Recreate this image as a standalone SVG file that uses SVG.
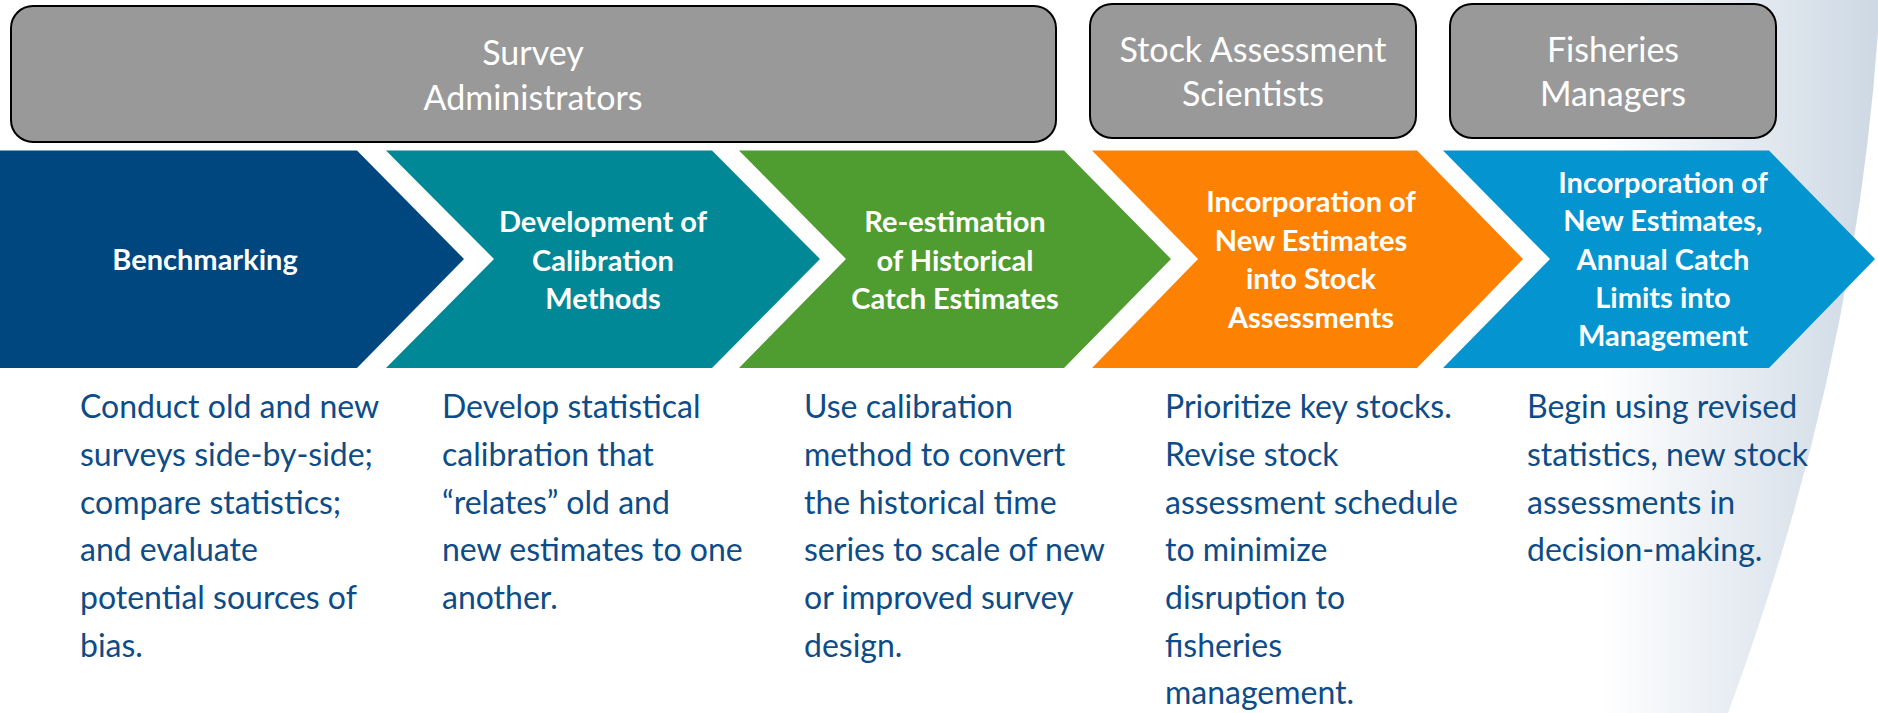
<svg xmlns="http://www.w3.org/2000/svg" width="1878" height="713" viewBox="0 0 1878 713">
  <defs>
    <linearGradient id="swooshFill" gradientUnits="userSpaceOnUse" x1="1600" y1="0" x2="1880" y2="0">
      <stop offset="0" stop-color="#ffffff"/>
      <stop offset="1" stop-color="#cdd8e4"/>
    </linearGradient>
    <style>
      .role { fill: #999999; stroke: #000000; stroke-width: 2; }
      .role-text { font-family: Lato, "Liberation Sans", sans-serif; font-size: 34px; fill: #ffffff; text-anchor: middle; }
      .step-text { font-family: Lato, "Liberation Sans", sans-serif; font-size: 29px; font-weight: bold; fill: #ffffff; text-anchor: middle; }
      .desc { font-family: Lato, "Liberation Sans", sans-serif; font-size: 32px; fill: #0d4c87; }
    </style>
  </defs>

  <rect width="1878" height="713" fill="#ffffff"/>

  <!-- background swoosh on the right edge -->
  <path d="M1560,0 L1880,0 Q1860,356.5 1728,713 L1560,713 Z" fill="url(#swooshFill)"/>

  <!-- role headers -->
  <g id="role-survey">
    <rect class="role" x="11" y="6" width="1045" height="136" rx="22"/>
    <text class="role-text" x="533" y="65">Survey</text>
    <text class="role-text" x="533" y="110">Administrators</text>
  </g>
  <g id="role-stock">
    <rect class="role" x="1090" y="4" width="326" height="134" rx="22"/>
    <text class="role-text" x="1253" y="62">Stock Assessment</text>
    <text class="role-text" x="1253" y="106">Scientists</text>
  </g>
  <g id="role-managers">
    <rect class="role" x="1450" y="4" width="326" height="134" rx="22"/>
    <text class="role-text" x="1613" y="62">Fisheries</text>
    <text class="role-text" x="1613" y="106">Managers</text>
  </g>

  <!-- process chevrons -->
  <g id="step-benchmarking">
    <path d="M0,150.5 H357 L464,259 L357,368 H0 Z" fill="#00467f"/>
    <text class="step-text" x="205" y="270">Benchmarking</text>
  </g>
  <g id="step-calibration">
    <path d="M386,150.5 H712 L820,259 L712,368 H386 L494,259 Z" fill="#008896"/>
    <text class="step-text" x="603" y="232">Development of</text>
    <text class="step-text" x="603" y="270.5">Calibration</text>
    <text class="step-text" x="603" y="309">Methods</text>
  </g>
  <g id="step-reestimation">
    <path d="M739,150.5 H1064 L1171,259 L1064,368 H739 L846,259 Z" fill="#4f9c30"/>
    <text class="step-text" x="955" y="232">Re-estimation</text>
    <text class="step-text" x="955" y="270.5">of Historical</text>
    <text class="step-text" x="955" y="309">Catch Estimates</text>
  </g>
  <g id="step-stock-assessment">
    <path d="M1092,150.5 H1417 L1523,259 L1417,368 H1092 L1198,259 Z" fill="#fd8204"/>
    <text class="step-text" x="1311" y="212">Incorporation of</text>
    <text class="step-text" x="1311" y="250.5">New Estimates</text>
    <text class="step-text" x="1311" y="289">into Stock</text>
    <text class="step-text" x="1311" y="327.5">Assessments</text>
  </g>
  <g id="step-management">
    <path d="M1443,150.5 H1769 L1875,259 L1769,368 H1443 L1550,259 Z" fill="#0494d0"/>
    <text class="step-text" x="1663" y="193">Incorporation of</text>
    <text class="step-text" x="1663" y="231">New Estimates,</text>
    <text class="step-text" x="1663" y="269.5">Annual Catch</text>
    <text class="step-text" x="1663" y="308">Limits into</text>
    <text class="step-text" x="1663" y="346">Management</text>
  </g>

  <!-- no connectors: the chevrons abut one another -->
  <g id="connectors"/>

  <!-- step descriptions -->
  <g id="desc-benchmarking">
    <text class="desc" x="80" y="418">Conduct old and new</text>
    <text class="desc" x="80" y="466">surveys side-by-side;</text>
    <text class="desc" x="80" y="514">compare statistics;</text>
    <text class="desc" x="80" y="561">and evaluate</text>
    <text class="desc" x="80" y="609">potential sources of</text>
    <text class="desc" x="80" y="657">bias.</text>
  </g>
  <g id="desc-calibration">
    <text class="desc" x="442" y="418">Develop statistical</text>
    <text class="desc" x="442" y="466">calibration that</text>
    <text class="desc" x="442" y="514">“relates” old and</text>
    <text class="desc" x="442" y="561">new estimates to one</text>
    <text class="desc" x="442" y="609">another.</text>
  </g>
  <g id="desc-reestimation">
    <text class="desc" x="804" y="418">Use calibration</text>
    <text class="desc" x="804" y="466">method to convert</text>
    <text class="desc" x="804" y="514">the historical time</text>
    <text class="desc" x="804" y="561">series to scale of new</text>
    <text class="desc" x="804" y="609">or improved survey</text>
    <text class="desc" x="804" y="657">design.</text>
  </g>
  <g id="desc-stock-assessment">
    <text class="desc" x="1165" y="418">Prioritize key stocks.</text>
    <text class="desc" x="1165" y="466">Revise stock</text>
    <text class="desc" x="1165" y="514">assessment schedule</text>
    <text class="desc" x="1165" y="561">to minimize</text>
    <text class="desc" x="1165" y="609">disruption to</text>
    <text class="desc" x="1165" y="657">fisheries</text>
    <text class="desc" x="1165" y="704">management.</text>
  </g>
  <g id="desc-management">
    <text class="desc" x="1527" y="418">Begin using revised</text>
    <text class="desc" x="1527" y="466">statistics, new stock</text>
    <text class="desc" x="1527" y="514">assessments in</text>
    <text class="desc" x="1527" y="561">decision-making.</text>
  </g>
</svg>
